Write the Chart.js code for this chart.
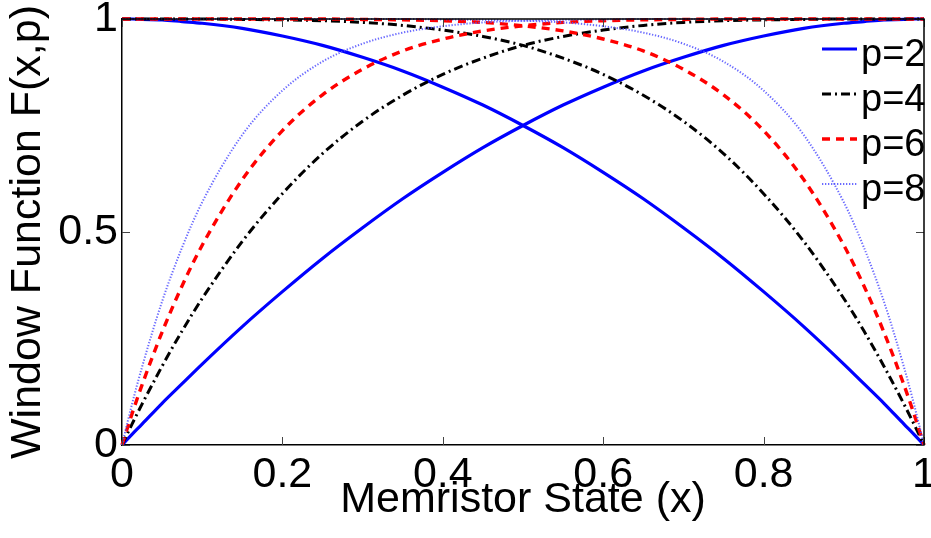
<!DOCTYPE html>
<html>
<head>
<meta charset="utf-8">
<script src="https://cdn.jsdelivr.net/npm/chart.js@4/dist/chart.umd.min.js"></script>
<style>
  html, body { margin: 0; padding: 0; background: #fff; }
  #wrap { width: 931px; height: 538px; }
</style>
</head>
<body>
<div id="wrap"><canvas id="c" width="931" height="538"></canvas></div>
<script>
// Memristor state samples (x)
const xValues = [0, 0.0125, 0.025, 0.05, 0.075, 0.1, 0.15, 0.2, 0.25, 0.3, 0.35, 0.4, 0.45, 0.5,
  0.55, 0.6, 0.65, 0.7, 0.75, 0.8, 0.85, 0.9, 0.925, 0.95, 0.975, 0.9875, 1];

// Rising and falling branches
const p2Rise = [0, 0.025, 0.049, 0.098, 0.144, 0.19, 0.278, 0.36, 0.438, 0.51, 0.578, 0.64, 0.698, 0.75,
  0.798, 0.84, 0.878, 0.91, 0.938, 0.96, 0.978, 0.99, 0.994, 0.998, 0.999, 1, 1];
const p2Fall = [1, 1, 0.999, 0.998, 0.994, 0.99, 0.978, 0.96, 0.938, 0.91, 0.878, 0.84, 0.798, 0.75,
  0.698, 0.64, 0.578, 0.51, 0.438, 0.36, 0.278, 0.19, 0.144, 0.098, 0.049, 0.025, 0];

const p4Rise = [0, 0.049, 0.096, 0.185, 0.268, 0.344, 0.478, 0.59, 0.684, 0.76, 0.821, 0.87, 0.908, 0.938,
  0.959, 0.974, 0.985, 0.992, 0.996, 0.998, 0.999, 1, 1, 1, 1, 1, 1];
const p4Fall = [1, 1, 1, 1, 1, 1, 0.999, 0.998, 0.996, 0.992, 0.985, 0.974, 0.959, 0.938,
  0.908, 0.87, 0.821, 0.76, 0.684, 0.59, 0.478, 0.344, 0.268, 0.185, 0.096, 0.049, 0];

const p6Rise = [0, 0.073, 0.141, 0.265, 0.374, 0.469, 0.623, 0.738, 0.822, 0.882, 0.925, 0.953, 0.972, 0.984,
  0.992, 0.996, 0.998, 0.999, 1, 1, 1, 1, 1, 1, 1, 1, 1];
const p6Fall = [1, 1, 1, 1, 1, 1, 1, 1, 1, 0.999, 0.998, 0.996, 0.992, 0.984,
  0.972, 0.953, 0.925, 0.882, 0.822, 0.738, 0.623, 0.469, 0.374, 0.265, 0.141, 0.073, 0];

const p8Rise = [0, 0.096, 0.183, 0.337, 0.464, 0.57, 0.728, 0.832, 0.9, 0.942, 0.968, 0.983, 0.992, 0.996,
  0.998, 0.999, 1, 1, 1, 1, 1, 1, 1, 1, 1, 1, 1];
const p8Fall = [1, 1, 1, 1, 1, 1, 1, 1, 1, 1, 1, 0.999, 0.998, 0.996,
  0.992, 0.983, 0.968, 0.942, 0.9, 0.832, 0.728, 0.57, 0.464, 0.337, 0.183, 0.096, 0];

const legendLabels = ['p=2', 'p=4', 'p=6', 'p=8'];
const xTickValues = [0, 0.2, 0.4, 0.6, 0.8, 1];
const xTickLabels = ['0', '0.2', '0.4', '0.6', '0.8', '1'];
const yTickValues = [0, 0.5, 1];
const yTickLabels = ['0', '0.5', '1'];

const FONT = '"Liberation Sans", Arial, Helvetica, sans-serif';

const styles = [
  { color: '#0000ff', width: 3.2, dash: [] },
  { color: '#000000', width: 3, dash: [9, 4, 2, 4] },
  { color: '#ff0000', width: 3.4, dash: [8, 6] },
  { color: 'rgba(80,80,255,0.85)', width: 2, dash: [1.3, 1.7] }
];

const branches = [[p2Rise, p2Fall], [p4Rise, p4Fall], [p6Rise, p6Fall], [p8Rise, p8Fall]];
const toPts = arr => xValues.map((x, i) => ({ x: x, y: arr[i] }));

const datasets = [];
branches.forEach((pair, k) => {
  pair.forEach((arr, j) => {
    datasets.push({
      label: legendLabels[k],
      data: toPts(arr),
      borderColor: styles[k].color,
      borderWidth: styles[k].width,
      borderDash: styles[k].dash,
      pointRadius: 0,
      cubicInterpolationMode: 'monotone',
      fill: false,
      clip: 6,
      order: 10 - k
    });
  });
});

const frame = {
  id: 'frame',
  afterDatasetsDraw(chart) {
    const { ctx, chartArea: a, scales } = chart;
    ctx.save();
    // inward tick marks on all four sides
    ctx.strokeStyle = '#444';
    ctx.lineWidth = 1;
    const tl = 8;
    xTickValues.forEach(v => {
      const px = Math.round(scales.x.getPixelForValue(v)) + 0.5;
      ctx.beginPath();
      ctx.moveTo(px, a.bottom); ctx.lineTo(px, a.bottom - tl);
      ctx.moveTo(px, a.top); ctx.lineTo(px, a.top + tl);
      ctx.stroke();
    });
    yTickValues.forEach(v => {
      const py = Math.round(scales.y.getPixelForValue(v)) + 0.5;
      ctx.beginPath();
      ctx.moveTo(a.left, py); ctx.lineTo(a.left + tl, py);
      ctx.moveTo(a.right, py); ctx.lineTo(a.right - tl, py);
      ctx.stroke();
    });
    // top and right box
    ctx.strokeStyle = '#000';
    ctx.lineWidth = 1.5;
    ctx.beginPath();
    ctx.moveTo(a.left, a.top); ctx.lineTo(a.right, a.top); ctx.lineTo(a.right, a.bottom);
    ctx.stroke();
    // legend
    const lx0 = 822, lx1 = 857, tx = 861;
    const ly = [49, 94, 139, 184];
    ctx.font = '38px ' + FONT;
    ctx.textBaseline = 'middle';
    ctx.textAlign = 'left';
    legendLabels.forEach((lab, k) => {
      const s = styles[k];
      ctx.strokeStyle = s.color;
      ctx.lineWidth = s.width;
      ctx.setLineDash(s.dash);
      ctx.beginPath();
      ctx.moveTo(lx0, ly[k]); ctx.lineTo(lx1, ly[k]);
      ctx.stroke();
      ctx.setLineDash([]);
      ctx.fillStyle = '#000';
      ctx.fillText(lab, tx, ly[k] + 7);
    });
    ctx.restore();
  }
};

new Chart(document.getElementById('c'), {
  type: 'line',
  data: { datasets: datasets },
  options: {
    responsive: false,
    animation: false,
    devicePixelRatio: 1,
    layout: { padding: { top: 19, right: 7, left: 0, bottom: 0 } },
    plugins: { legend: { display: false }, tooltip: { enabled: false } },
    scales: {
      x: {
        type: 'linear', min: 0, max: 1,
        afterBuildTicks: s => { s.ticks = xTickValues.map(v => ({ value: v })); },
        afterFit: s => { s.height = 93; s.paddingLeft = 0; s.paddingRight = 0; },
        ticks: {
          color: '#000', padding: 4, maxRotation: 0, autoSkip: false,
          font: { family: FONT, size: 43 },
          callback: (v, i) => xTickLabels[i]
        },
        grid: { display: false, drawTicks: false },
        border: { display: true, color: '#000', width: 1.5 },
        title: {
          display: true, text: 'Memristor State (x)', color: '#000',
          font: { family: FONT, size: 43 }, padding: { top: 0, bottom: 12 }
        }
      },
      y: {
        type: 'linear', min: 0, max: 1,
        afterBuildTicks: s => { s.ticks = yTickValues.map(v => ({ value: v })); },
        afterFit: s => { s.width = 122; s.paddingTop = 0; s.paddingBottom = 0; },
        ticks: {
          color: '#000', padding: 4, autoSkip: false,
          font: { family: FONT, size: 43 },
          callback: (v, i) => yTickLabels[i]
        },
        grid: { display: false, drawTicks: false },
        border: { display: true, color: '#000', width: 1.5 },
        title: {
          display: true, text: 'Window Function F(x,p)', color: '#000',
          font: { family: FONT, size: 43 }, padding: { top: 2, bottom: 0 }
        }
      }
    }
  },
  plugins: [frame]
});
</script>
</body>
</html>
